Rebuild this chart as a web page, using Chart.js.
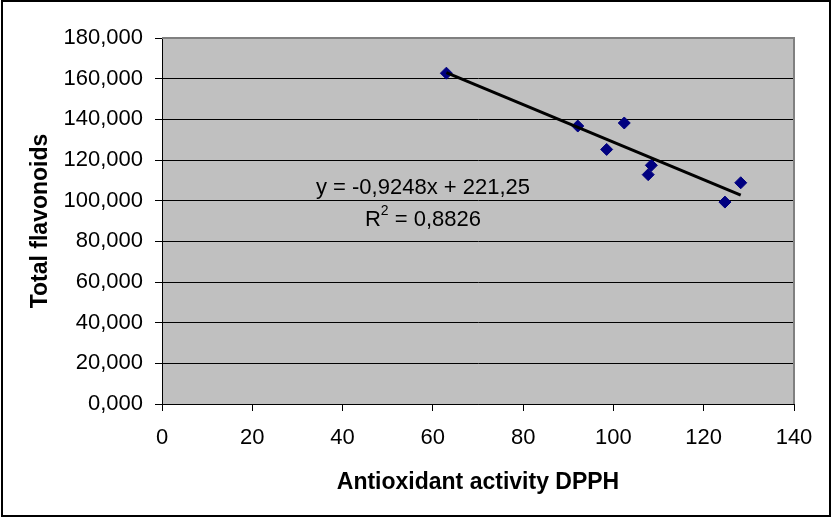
<!DOCTYPE html>
<html><head><meta charset="utf-8">
<script src="https://cdn.jsdelivr.net/npm/chart.js@4"></script>
<style>html,body{margin:0;padding:0;background:#fff}#wrap{width:832px;height:520px}</style>
</head><body><div id="wrap"><canvas id="c" width="832" height="520"></canvas></div>
<script>
const dpph = [63.0, 92.1, 98.5, 102.4, 108.4, 107.7, 124.7, 128.2];
const flavonoids = [162.7, 136.7, 125.2, 138.2, 117.4, 112.8, 99.3, 108.8];
const slope = -0.9248;
const intercept = 221.25;
const r2Label = '0,8826';
const eqLabel = 'y = -0,9248x + 221,25';
const xTicks = [0, 20, 40, 60, 80, 100, 120, 140];
const yTicks = [0, 20, 40, 60, 80, 100, 120, 140, 160, 180];

const points = dpph.map((x, i) => ({x, y: flavonoids[i]}));
const xMin = Math.min(...dpph), xMax = Math.max(...dpph);
const trend = [{x: xMin, y: slope * xMin + intercept}, {x: xMax, y: slope * xMax + intercept}];
const FONT = '"Liberation Sans", Arial, sans-serif';

const bgPlugin = {
  id: 'bg',
  beforeDraw(chart) {
    const {ctx, chartArea: a} = chart;
    ctx.save();
    ctx.fillStyle = '#c0c0c0';
    ctx.fillRect(a.left, a.top, a.right - a.left, a.bottom - a.top);
    ctx.restore();
  },
  afterDraw(chart) {
    const {ctx, chartArea: a} = chart;
    ctx.save();
    ctx.strokeStyle = '#808080';
    ctx.lineWidth = 2;
    ctx.beginPath();
    ctx.moveTo(a.left, a.top); ctx.lineTo(a.right, a.top); ctx.lineTo(a.right, a.bottom);
    ctx.stroke();
    ctx.strokeStyle = '#000';
    ctx.lineWidth = 2;
    ctx.strokeRect(2, 1, 828, 515);
    // equation label
    const cx = 423;
    ctx.fillStyle = '#000';
    ctx.font = '22px ' + FONT;
    ctx.textAlign = 'center';
    ctx.textBaseline = 'middle';
    ctx.fillText(eqLabel, cx, 188);
    const rest = ' = ' + r2Label;
    const wR = ctx.measureText('R').width;
    const wRest = ctx.measureText(rest).width;
    ctx.font = '14px ' + FONT;
    const w2 = ctx.measureText('2').width;
    const total = wR + w2 + wRest;
    const sx = cx - total / 2;
    ctx.textAlign = 'left';
    ctx.font = '22px ' + FONT;
    ctx.fillText('R', sx, 220);
    ctx.font = '14px ' + FONT;
    ctx.fillText('2', sx + wR, 211);
    ctx.font = '22px ' + FONT;
    ctx.fillText(rest, sx + wR + w2, 220);
    ctx.restore();
  }
};

new Chart(document.getElementById('c'), {
  type: 'scatter',
  data: {
    datasets: [
      {
        data: points,
        pointStyle: 'rectRot',
        pointRadius: 6,
        pointHoverRadius: 6,
        backgroundColor: '#000080',
        borderColor: '#000080',
        borderWidth: 1,
        order: 1
      },
      {
        type: 'line',
        data: trend,
        borderColor: '#000',
        borderWidth: 3,
        pointRadius: 0,
        fill: false,
        order: 0
      }
    ]
  },
  options: {
    responsive: false,
    animation: false,
    events: [],
    layout: {padding: {left: 0, right: 38, top: 38, bottom: 0}},
    plugins: {legend: {display: false}, tooltip: {enabled: false}},
    scales: {
      x: {
        type: 'linear', min: 0, max: 140,
        afterBuildTicks(s) { s.ticks = xTicks.map(v => ({value: v})); },
        afterFit(s) { s.height = 520 - 404; },
        grid: {drawOnChartArea: false, drawTicks: true, tickLength: 7, color: '#000', lineWidth: 1},
        border: {display: true, color: '#000', width: 1},
        ticks: {color: '#000', font: {family: FONT, size: 22}, padding: 14, maxRotation: 0},
        title: {display: true, text: 'Antioxidant activity DPPH', color: '#000',
          font: {family: FONT, size: 23, weight: 'bold'}, padding: {top: 0, bottom: 24}}
      },
      y: {
        type: 'linear', min: 0, max: 180,
        afterBuildTicks(s) { s.ticks = yTicks.map(v => ({value: v})); },
        afterFit(s) { s.width = 162; },
        grid: {drawOnChartArea: true, drawTicks: true, tickLength: 7, color: '#000', lineWidth: 1},
        border: {display: true, color: '#000', width: 1},
        ticks: {color: '#000', font: {family: FONT, size: 22}, padding: 12,
          callback: v => v.toFixed(3).replace('.', ',')},
        title: {display: true, text: 'Total flavonoids', color: '#000',
          font: {family: FONT, size: 23, weight: 'bold'}, padding: {top: 27, bottom: 0}}
      }
    }
  },
  plugins: [bgPlugin]
});
</script></body></html>
